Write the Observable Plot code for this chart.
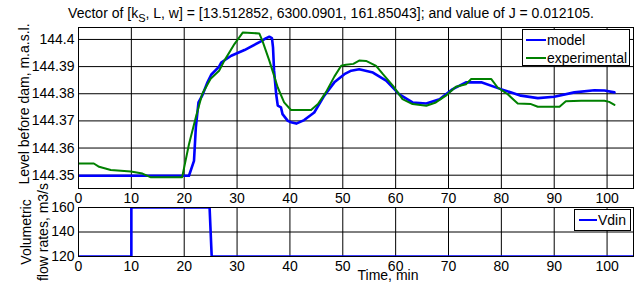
<!DOCTYPE html>
<html>
<head>
<meta charset="utf-8">
<script src="https://cdn.jsdelivr.net/npm/d3@7"></script>
<script src="https://cdn.jsdelivr.net/npm/@observablehq/plot@0.6"></script>
<style>
  html, body { margin: 0; padding: 0; background: #fff; }
  #wrap { position: relative; width: 638px; height: 282px; overflow: hidden; font-family: "Liberation Sans", Arial, sans-serif; color: #000; }
  .abs { position: absolute; white-space: nowrap; }
  .rot { transform: translate(-50%, -50%) rotate(-90deg); text-align: center; }
  .legend { position: absolute; border: 1px solid #000; background: #fff; box-sizing: border-box; font-size: 14px; }
  .leg-item { position: absolute; white-space: nowrap; }
  .leg-line { position: absolute; height: 0; }
</style>
</head>
<body>
<div id="wrap"></div>
<script>
// ---- Data ----
const titleText = 'Vector of [k<sub>S</sub>, L, w] = [13.512852, 6300.0901, 161.85043]; and value of J = 0.012105.';
const xTicks = [0, 10, 20, 30, 40, 50, 60, 70, 80, 90, 100];
const levelTicks = [144.35, 144.36, 144.37, 144.38, 144.39, 144.4];
const flowTicks = [120, 140, 160];

const modelT = [0, 20.9, 21.85, 22.2, 22.7, 23.4, 24.4, 25.1, 26.6, 27, 28.9, 31.4, 34.5, 35.5, 36.1, 36.6, 36.8, 37.0, 37.4, 37.7, 38.3, 38.6, 39.6, 40.2, 41.2, 42.7, 44.6, 46.5, 48.4, 50.3, 51.6, 53.1, 55.7, 58.2, 60.7, 63.2, 65.8, 68.3, 70.8, 73.3, 76.2, 79.9, 83.7, 86.9, 90, 93.8, 97.6, 99.5, 101.4];
const modelV = [144.3498, 144.3498, 144.3553, 144.3676, 144.3768, 144.3793, 144.3842, 144.3870, 144.3900, 144.3915, 144.3940, 144.3961, 144.3993, 144.4005, 144.4010, 144.4005, 144.3971, 144.3885, 144.3798, 144.3756, 144.3750, 144.3725, 144.3700, 144.3695, 144.3690, 144.3703, 144.3731, 144.3793, 144.3842, 144.3872, 144.3885, 144.3890, 144.3878, 144.3848, 144.3798, 144.3768, 144.3764, 144.3780, 144.3817, 144.3842, 144.3842, 144.3817, 144.3793, 144.3784, 144.3789, 144.3805, 144.3813, 144.3812, 144.3805];

const expT = [0, 2.9, 3.9, 6.1, 9.9, 12.1, 13.7, 19.6, 20.9, 22.2, 23.4, 25.0, 26.6, 27.6, 29.5, 31.1, 34.2, 34.8, 36.1, 37.7, 38.9, 40.2, 44.0, 45.3, 46.8, 48.4, 49.7, 50.6, 52.0, 53.1, 54.4, 56.3, 57.6, 59.5, 61.3, 63.2, 65.8, 67.6, 69.5, 71.4, 73.3, 74.3, 78.1, 79.3, 81.2, 83.1, 85.6, 86.9, 91.0, 92.2, 95.1, 99.5, 100.4, 101.4];
const expV = [144.3543, 144.3543, 144.3531, 144.3519, 144.3514, 144.3506, 144.3492, 144.3492, 144.3614, 144.3713, 144.3799, 144.3855, 144.3885, 144.3922, 144.3983, 144.4026, 144.4022, 144.3995, 144.3922, 144.3823, 144.3768, 144.3740, 144.3740, 144.3762, 144.3805, 144.3863, 144.3903, 144.3907, 144.3910, 144.3922, 144.3921, 144.3903, 144.3872, 144.3829, 144.3780, 144.3762, 144.3756, 144.3768, 144.3793, 144.3826, 144.3835, 144.3854, 144.3854, 144.3823, 144.3798, 144.3764, 144.3762, 144.3752, 144.3752, 144.3772, 144.3774, 144.3774, 144.3770, 144.3759];

const vdinT = [0, 10, 10, 24.8, 25.2, 105];
const vdinV = [120, 120, 160, 160, 120, 120];

const seriesNames = ["model", "experimental"];
const seriesColors = ["#0000ff", "#008000"];
const flowName = "Vdin";

// ---- Build ----
const wrap = document.getElementById("wrap");
const font = '"Liberation Sans", Arial, sans-serif';
const svgStyle = { fontFamily: font, fontSize: "14px", background: "transparent", color: "#000", overflow: "visible" };
const fmt = d => String(d);

const topPlot = Plot.plot({
  width: 638, height: 208,
  marginLeft: 78, marginRight: 5, marginTop: 27, marginBottom: 20,
  style: svgStyle,
  x: { domain: [0, 105] },
  y: { domain: [144.3451, 144.4044] },
  marks: [
    Plot.gridX(xTicks, { stroke: "#000", strokeOpacity: 1, strokeWidth: 1 }),
    Plot.gridY(levelTicks, { stroke: "#000", strokeOpacity: 1, strokeWidth: 1 }),
    Plot.line(modelV, { x: modelT, y: modelV, stroke: seriesColors[0], strokeWidth: 2.6, clip: true }),
    Plot.line(expV, { x: expT, y: expV, stroke: seriesColors[1], strokeWidth: 2, clip: true }),
    Plot.frame({ stroke: "#000", strokeWidth: 1 }),
    Plot.axisX(xTicks, { tickSize: 0, tickPadding: 5, fontSize: 14, label: null, tickFormat: fmt }),
    Plot.axisY(levelTicks, { tickSize: 0, tickPadding: 4, fontSize: 14, label: null, tickFormat: fmt })
  ]
});
topPlot.style.position = "absolute";
topPlot.style.left = "0px";
topPlot.style.top = "0px";
wrap.appendChild(topPlot);

const botPlot = Plot.plot({
  width: 638, height: 92,
  marginLeft: 78, marginRight: 5, marginTop: 17, marginBottom: 26,
  style: svgStyle,
  x: { domain: [0, 105] },
  y: { domain: [120, 160] },
  marks: [
    Plot.gridX(xTicks, { stroke: "#000", strokeOpacity: 1, strokeWidth: 1 }),
    Plot.gridY(flowTicks, { stroke: "#000", strokeOpacity: 1, strokeWidth: 1 }),
    Plot.line(vdinV, { x: vdinT, y: vdinV, stroke: seriesColors[0], strokeWidth: 2.6, clip: true }),
    Plot.frame({ stroke: "#000", strokeWidth: 1 }),
    Plot.axisX(xTicks, { tickSize: 0, tickPadding: 5, fontSize: 14, label: null, tickFormat: fmt }),
    Plot.axisY(flowTicks, { tickSize: 0, tickPadding: 4, fontSize: 14, label: null, tickFormat: fmt })
  ]
});
botPlot.style.position = "absolute";
botPlot.style.left = "0px";
botPlot.style.top = "190px";
wrap.appendChild(botPlot);

// Title
const title = document.createElement("div");
title.className = "abs";
title.style.cssText = "left:331px; top:13px; transform:translate(-50%,-50%); font-size:14px; line-height:16px;";
title.innerHTML = titleText.replace("<sub>", '<sub style="font-size:11px; vertical-align:-4px; line-height:0">');
wrap.appendChild(title);

// Y labels
const yl1 = document.createElement("div");
yl1.className = "abs rot";
yl1.style.cssText += "left:24px; top:104px; font-size:14px; line-height:16px;";
yl1.textContent = "Level before dam, m.a.s.l.";
wrap.appendChild(yl1);

const yl2 = document.createElement("div");
yl2.className = "abs rot";
yl2.style.cssText += "left:35px; top:232px; font-size:14px; line-height:17px;";
yl2.innerHTML = "Volumetric<br>flow rates, m3/s";
wrap.appendChild(yl2);

// X label
const xl = document.createElement("div");
xl.className = "abs";
xl.style.cssText = "left:388px; top:275px; transform:translate(-50%,-50%); font-size:14px; line-height:16px;";
xl.textContent = "Time, min";
wrap.appendChild(xl);

// Legends
function legend(x, y, w, h, items) {
  const box = document.createElement("div");
  box.className = "legend";
  box.style.left = x + "px"; box.style.top = y + "px";
  box.style.width = w + "px"; box.style.height = h + "px";
  items.forEach(it => {
    const ln = document.createElement("div");
    ln.className = "leg-line";
    ln.style.left = it.lx + "px"; ln.style.top = (it.cy - 1) + "px";
    ln.style.width = it.lw + "px";
    ln.style.borderTop = "2px solid " + it.color;
    box.appendChild(ln);
    const tx = document.createElement("div");
    tx.className = "leg-item";
    tx.style.left = (it.lx + it.lw + 1) + "px";
    tx.style.top = (it.cy - 8) + "px";
    tx.style.lineHeight = "16px";
    tx.textContent = it.name;
    box.appendChild(tx);
  });
  wrap.appendChild(box);
}
legend(522, 29, 108, 37, [
  { name: seriesNames[0], color: seriesColors[0], lx: 3, lw: 20, cy: 10 },
  { name: seriesNames[1], color: seriesColors[1], lx: 3, lw: 20, cy: 28 }
]);
legend(574, 209, 57, 22, [
  { name: flowName, color: seriesColors[0], lx: 4, lw: 18, cy: 10 }
]);
</script>
</body>
</html>
